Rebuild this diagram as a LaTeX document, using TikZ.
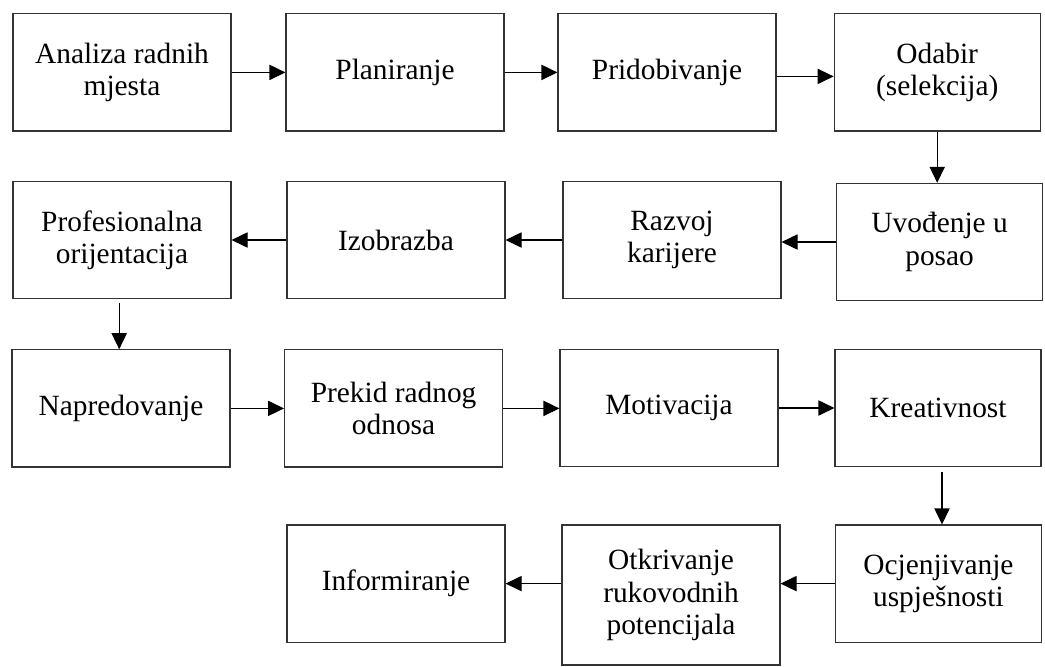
\documentclass[tikz,border=0pt]{standalone}
\usepackage{fontspec}
\setmainfont{Liberation Serif}
\usepackage{tikz}
\usetikzlibrary{arrows.meta,calc}

\begin{document}
\begin{tikzpicture}[
  korak/.style={draw=black!80, line width=0.8pt, rectangle, align=center,
    minimum width=5.45cm, minimum height=2.93cm, inner sep=0pt,
    font=\fontsize{20.9pt}{23pt}\selectfont},
  uski/.style={minimum width=5.15cm},
  >={Triangle[length=4mm,width=3.8mm]}, every path/.style={line width=0.8pt}]
\useasboundingbox (0cm,0cm) rectangle (26.125cm,-16.65cm);
% prvi red
\node[korak] (a1) at (3.05 cm,-1.81cm) {Analiza radnih\\mjesta};
\node[korak] (a2) at (9.875 cm,-1.81cm) {Planiranje};
\node[korak] (a3) at (16.675 cm,-1.81cm) {Pridobivanje};
\node[korak,uski] (a4) at (23.43 cm,-1.81cm) {Odabir\\(selekcija)};
% drugi red
\node[korak] (b1) at (3.05 cm,-6.0cm) {Profesionalna\\orijentacija};
\node[korak] (b2) at (9.9 cm,-6.0cm) {Izobrazba};
\node[korak] (b3) at (16.8 cm,-6.0cm) {Razvoj\\karijere};
\node[korak,uski] (b4) at (23.49 cm,-6.05cm) {Uvođenje u\\posao};
% treci red
\node[korak] (c1) at (3.025 cm,-10.21cm) {Napredovanje};
\node[korak] (c2) at (9.84 cm,-10.21cm) {Prekid radnog\\odnosa};
\node[korak] (c3) at (16.725 cm,-10.2cm) {Motivacija};
\node[korak,uski] (c4) at (23.45 cm,-10.2cm) {Kreativnost};
% cetvrti red
\node[korak] (d2) at (9.9 cm,-14.59cm) {Informiranje};
\node[korak,minimum height=3.5cm] (d3) at (16.775 cm,-14.875cm) {Otkrivanje\\rukovodnih\\potencijala};
\node[korak,uski] (d4) at (23.46 cm,-14.59cm) {Ocjenjivanje\\uspješnosti};
% pocetci okomitih strelica
\coordinate (b1s) at ($(b1.south)+(-0.07,-0.1)$);
\coordinate (c4s) at ($(c4.south)+(0.1,-0.12)$);
% strelice
\draw[->] (a1.east) -- (a2.west);
\draw[->] (a2.east) -- (a3.west);
\draw[->] ($(a3.east)+(0,-0.1)$) -- ($(a4.west)+(0,-0.1)$);
\draw[->] (a4.south) -- (a4.south |- b4.north);
\draw[->] (b4.west) -- (b4.west -| b3.east);
\draw[->] (b3.west) -- (b3.west -| b2.east);
\draw[->] (b2.west) -- (b2.west -| b1.east);
\draw[->] (b1s) -- (b1s |- c1.north);
\draw[->] (c1.east) -- (c1.east -| c2.west);
\draw[->] (c2.east) -- (c2.east -| c3.west);
\draw[->] (c3.east) -- (c3.east -| c4.west);
\draw[->] (c4s) -- (c4s |- d4.north);
\draw[->] (d4.west) -- (d4.west -| d3.east);
\draw[->] (d4.west -| d3.west) -- (d4.west -| d2.east);
\end{tikzpicture}
\end{document}
